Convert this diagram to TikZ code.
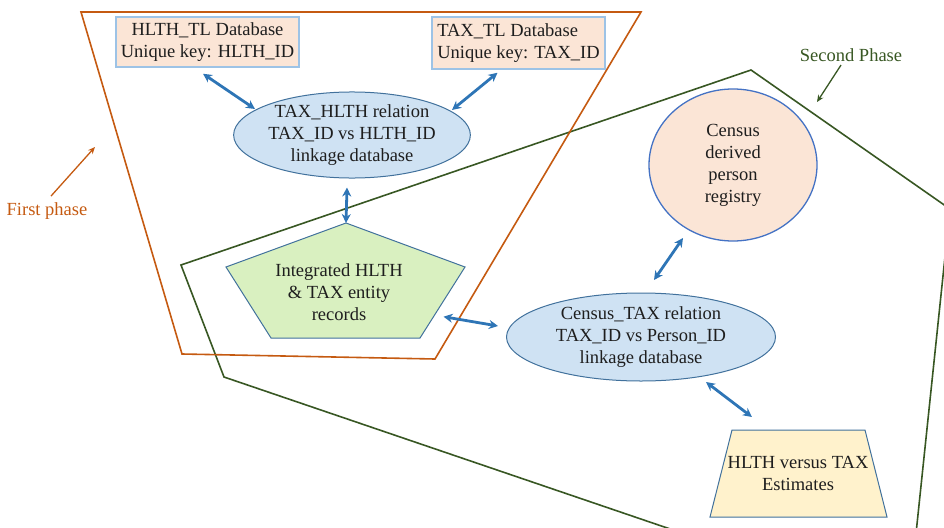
\documentclass[tikz,border=0pt]{standalone}
\usepackage{fontspec}
\setmainfont{Liberation Serif}
\usetikzlibrary{arrows.meta,shapes.geometric,calc}
\definecolor{orangeline}{RGB}{197,90,17}
\definecolor{greenline}{RGB}{56,87,35}
\definecolor{arrowblue}{RGB}{46,117,182}
\definecolor{boxborder}{RGB}{157,195,230}
\definecolor{peach}{RGB}{251,229,214}
\definecolor{lightblue}{RGB}{207,226,243}
\definecolor{ellborder}{RGB}{65,113,156}
\definecolor{circborder}{RGB}{68,114,196}
\definecolor{lightgreen}{RGB}{217,240,192}
\definecolor{lightyellow}{RGB}{255,242,204}
\definecolor{txtcol}{RGB}{30,30,30}
\begin{document}
\begin{tikzpicture}[x=1pt,y=-1pt,
  txt/.style={font=\fontsize{18.5}{22}\selectfont, align=center, text=txtcol},
  dbbox/.style={txt, draw=boxborder, fill=peach, line width=1.5pt, inner sep=0pt},
  linkell/.style={txt, ellipse, draw=ellborder, fill=lightblue, line width=1pt, inner sep=0pt},
  biarrow/.style={draw=arrowblue, line width=2.8pt, {Stealth[length=9pt,width=9pt]}-{Stealth[length=9pt,width=9pt]}},
  phasearrow/.style={line width=1.3pt, -{Stealth[length=7pt,width=6pt]}},
  phaseline/.style={line width=1.6pt, line join=miter}
]
\useasboundingbox (0,0) rectangle (944,527);

% phase outlines
\begin{scope}
\clip (0,0) rectangle (944,527);
\draw[phaseline, draw=greenline] (181,265) -- (751,70) -- (950,209) -- (908,610) -- (224,377) -- cycle;
\end{scope}
\draw[phaseline, draw=orangeline] (81,12) -- (641,12) -- (435,359) -- (182,354) -- cycle;

% phase labels
\node[txt, text=orangeline] (fp) at (47,211) {First phase};
\coordinate (fpend) at (95,147);
\draw[phasearrow, draw=orangeline] ($(fp.north)+(4,-3)$) -- (fpend);
\node[txt, text=greenline] (sp) at (851,55) {Second Phase};
\coordinate (spend) at (817,102);
\draw[phasearrow, draw=greenline] ($(sp.south)+(-10,0)$) -- (spend);

% databases
\node[dbbox, minimum width=183pt, minimum height=50pt] (hlth) at (207.5,42) {HLTH\_TL Database\\Unique key: HLTH\_ID};
\node[dbbox, minimum width=173pt, minimum height=52pt, align=left] (tax) at (518.5,43) {TAX\_TL Database\\Unique key: TAX\_ID};

% TAX_HLTH relation
\node[linkell, minimum width=228pt, minimum height=86pt] (th) at (352,135) {TAX\_HLTH relation\\TAX\_ID vs HLTH\_ID\\linkage database};

% pentagon
\coordinate (pa) at (346,223);
\coordinate (pb) at (465,267);
\coordinate (pc) at (420,338);
\coordinate (pd) at (271,338);
\coordinate (pe) at (226,267);
\draw[draw=ellborder, fill=lightgreen, line width=1pt] (pa) -- (pb) -- (pc) -- (pd) -- (pe) -- cycle;
\node[txt] (pent) at (339,292) {Integrated HLTH\\\& TAX entity\\records};

% census registry
\node[txt, ellipse, draw=circborder, fill=peach, line width=1.3pt, minimum width=168pt, minimum height=152pt, inner sep=0pt] (cen) at (733,165) {Census\\derived\\person\\registry};

% Census_TAX relation
\node[linkell, minimum width=269pt, minimum height=88pt] (ct) at (641,337) {Census\_TAX relation\\TAX\_ID vs Person\_ID\\linkage database};

% trapezoid
\coordinate (ta) at (732,430);
\coordinate (tb) at (865,430);
\coordinate (tc) at (887,517);
\coordinate (td) at (710,517);
\draw[draw=ellborder, fill=lightyellow, line width=1pt] (ta) -- (tb) -- (tc) -- (td) -- cycle;
\node[txt] (trap) at (798,473) {HLTH versus TAX\\Estimates};

% connectors
\draw[biarrow] ($(hlth.south)+(-4.5,6)$) -- ($(th.center)+(-97,-26)$);
\draw[biarrow] ($(tax.south)+(-21,3)$) -- ($(th.center)+(100,-25)$);
\draw[biarrow] ($(th.south)+(-5,9)$) -- (pa);
\draw[biarrow] ($(pb)!0.7!(pc)+(10,0)$) -- ($(ct.center)+(-143,-11)$);
\draw[biarrow] ($(ct.center)+(13,-57)$) -- ($(cen.center)+(-50,73)$);
\draw[biarrow] ($(ct.center)+(65,45)$) -- ($(ta)!0.15!(tb)+(0,-13)$);
\end{tikzpicture}
\end{document}
